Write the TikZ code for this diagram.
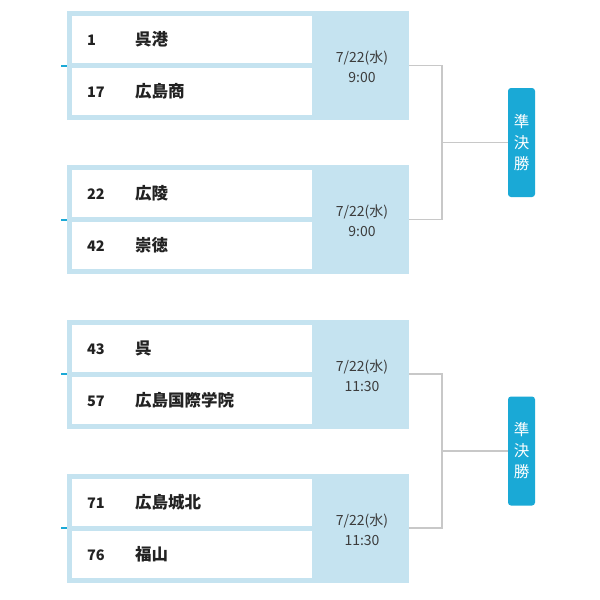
\documentclass[tikz,border=0pt]{standalone}
\usepackage{fontspec}
\setmainfont{Noto Sans CJK JP}
\usepackage{tikz}
\usetikzlibrary{positioning,calc}
\definecolor{cframe}{HTML}{C5E3F0}
\definecolor{cline}{HTML}{C8C8C8}
\definecolor{csemi}{HTML}{1AA9D6}
\definecolor{ctext}{HTML}{222222}
\definecolor{cdate}{HTML}{3C3C3C}
\tikzset{
  match/.style={rectangle, fill=cframe, draw=none, minimum width=342pt, minimum height=109pt, inner sep=0pt},
  slot/.style={rectangle, fill=white, draw=none, minimum width=240pt, minimum height=47pt, inner xsep=15pt, inner ysep=0pt,
    text width=210pt, align=left, font=\fontsize{14.5}{16}\selectfont\bfseries, text=ctext},
  when/.style={align=center, font=\fontsize{14}{20}\selectfont, text=cdate, inner sep=0pt},
  semi/.style={rectangle, rounded corners=3pt, fill=csemi, minimum width=27pt, minimum height=109pt, inner sep=0pt,
    align=center, font=\fontsize{15.5}{21}\selectfont, text=white},
  link/.style={draw=cline, line width=1.6pt},
  tick/.style={draw=csemi, line width=2pt},
}
\newcommand{\seed}[2]{\makebox[48pt][l]{#1}{\fontsize{16.5}{18}\selectfont#2}}

\begin{document}
\begin{tikzpicture}[x=1pt,y=-1pt]
\useasboundingbox[fill=white] (0,0) rectangle (600,600);
% first semi-final side
\node[match] (m1) at (238,65.5) {};
\node[slot] (t1) at (192,39.5) {\seed{1}{呉港}};
\node[slot] (t17) at (192,91.5) {\seed{17}{広島商}};
\node[when] (d1) at (362,67) {7/22(水)\\9:00};
\node[match] (m2) at (238,219.5) {};
\node[slot] (t22) at (192,193.5) {\seed{22}{広陵}};
\node[slot] (t42) at (192,245.5) {\seed{42}{崇徳}};
\node[when] (d2) at (362,221) {7/22(水)\\9:00};
\node[semi] (s1) at (521.5,142.5) {準\\決\\勝};
\coordinate (j1) at (442,142.5);
\draw[link] (m1.east) -| (j1) |- (m2.east);
\draw[link] (j1) -- (s1.west);
\draw[tick] (m1.west) -- ++(-6,0);
\draw[tick] (m2.west) -- ++(-6,0);
% second semi-final side
\node[match] (m3) at (238,374) {};
\node[slot] (t43) at (192,348) {\seed{43}{呉}};
\node[slot] (t57) at (192,400) {\seed{57}{広島国際学院}};
\node[when] (d3) at (362,375.5) {7/22(水)\\11:30};
\node[match] (m4) at (238,528) {};
\node[slot] (t71) at (192,502) {\seed{71}{広島城北}};
\node[slot] (t76) at (192,554) {\seed{76}{福山}};
\node[when] (d4) at (362,529.5) {7/22(水)\\11:30};
\node[semi] (s2) at (521.5,451) {準\\決\\勝};
\coordinate (j2) at (442,451);
\draw[link] (m3.east) -| (j2) |- (m4.east);
\draw[link] (j2) -- (s2.west);
\draw[tick] (m3.west) -- ++(-6,0);
\draw[tick] (m4.west) -- ++(-6,0);
\end{tikzpicture}
\end{document}
